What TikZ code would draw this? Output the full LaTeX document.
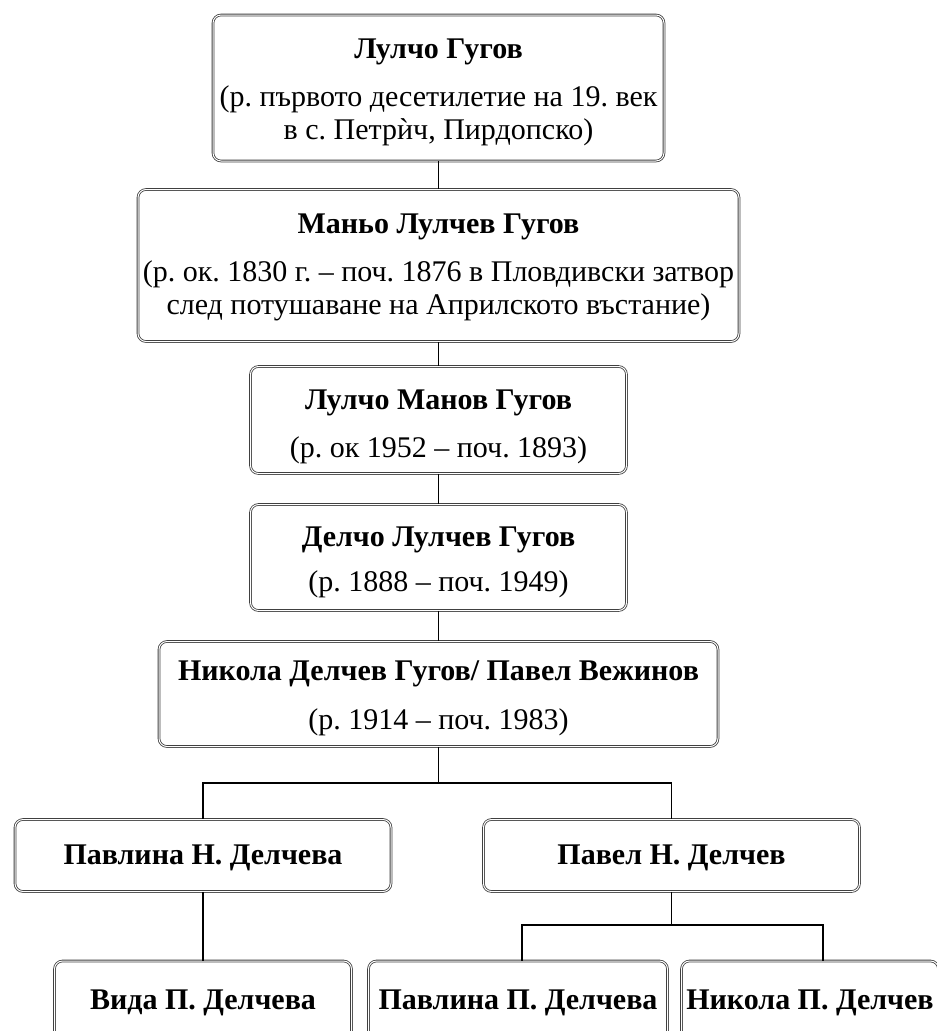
\documentclass[tikz,border=0pt]{standalone}
\usepackage{fontspec}
\setmainfont{Liberation Serif}
\frenchspacing
\tikzset{
  famebox/.style={draw=black!75, double=white, double distance=1pt, line width=0.8pt,
    rounded corners=8pt, inner sep=0pt},
  famtext/.style={align=center, inner sep=0pt, font=\fontsize{30}{33}\selectfont},
  link/.style={line width=1.6pt, draw=black}
}
\begin{document}
\begin{tikzpicture}[x=1pt,y=-1pt]
\useasboundingbox (0,0) rectangle (937,1031);
% boxes
\node[famebox, minimum width=451, minimum height=146] (b1) at (438.5,88) {};
\node[famebox, minimum width=601, minimum height=152] (b2) at (438.5,265.5) {};
\node[famebox, minimum width=376, minimum height=107] (b3) at (438.5,420) {};
\node[famebox, minimum width=376, minimum height=106] (b4) at (438.5,557.5) {};
\node[famebox, minimum width=559, minimum height=105] (b5) at (438.5,694) {};
\node[famebox, minimum width=376, minimum height=72] (b6) at (203,855.5) {};
\node[famebox, minimum width=376, minimum height=72] (b7) at (671.5,855.5) {};
\node[famebox, minimum width=297, minimum height=80] (b8) at (203,1001) {};
\node[famebox, minimum width=299, minimum height=80] (b9) at (518,1001) {};
\node[famebox, minimum width=257, minimum height=80] (b10) at (810,1001) {};
% texts
\node[famtext] (t1) at ([yshift=-4pt]b1.center)
  {\textbf{Лулчо Гугов}\\[15pt](р. първото десетилетие на 19. век\\в с. Петрѝч, Пирдопско)};
\node[famtext] (t2) at ([yshift=-2pt]b2.center)
  {\textbf{Маньо Лулчев Гугов}\\[15pt](р. ок. 1830 г. – поч. 1876 в Пловдивски затвор\\след потушаване на Априлското въстание)};
\node[famtext] (t3) at ([yshift=-7pt]b3.center)
  {\textbf{Лулчо Манов Гугов}\\[15pt](р. ок 1952 – поч. 1893)};
\node[famtext] (t4) at ([yshift=-5pt]b4.center)
  {\textbf{Делчо Лулчев Гугов}\\[12pt](р. 1888 – поч. 1949)};
\node[famtext] (t5) at ([yshift=-4pt]b5.center)
  {\textbf{Никола Делчев Гугов/ Павел Вежинов}\\[16pt](р. 1914 – поч. 1983)};
\node[famtext] (t6) at ([yshift=-2pt]b6.center) {\textbf{Павлина Н. Делчева}};
\node[famtext] (t7) at ([yshift=-2pt]b7.center) {\textbf{Павел Н. Делчев}};
\node[famtext] (t8) at ([yshift=-2pt]b8.center) {\textbf{Вида П. Делчева}};
\node[famtext] (t9) at ([yshift=-2pt]b9.center) {\textbf{Павлина П. Делчева}};
\node[famtext] (t10) at ([yshift=-2pt]b10.center) {\textbf{Никола П. Делчев}};
% connectors
\draw[link] (b1.south) -- (b2.north);
\draw[link] (b2.south) -- (b3.north);
\draw[link] (b3.south) -- (b4.north);
\draw[link] (b4.south) -- (b5.north);
\draw[link] (b5.south) -- ++(0,36) -| (b6.north);
\draw[link] (b5.south) ++(0,36) -| (b7.north);
\draw[link] (b6.south) -- (b8.north);
\draw[link] (b7.south) -- ++(0,33) -| ([xshift=4pt]b9.north);
\draw[link] (b7.south) ++(0,33) -| ([xshift=13pt]b10.north);
\end{tikzpicture}
\end{document}
